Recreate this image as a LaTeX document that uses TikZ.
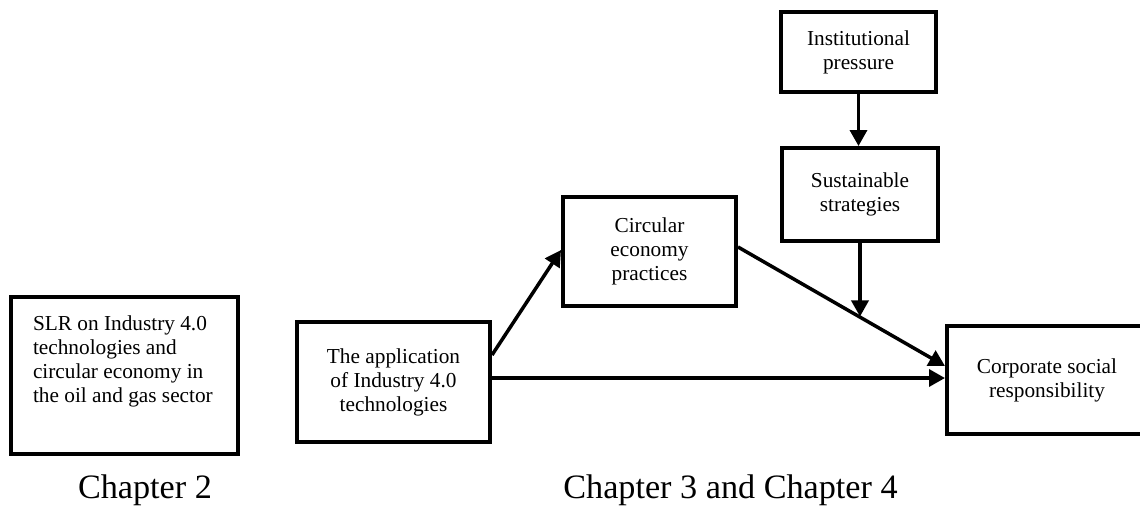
\documentclass[tikz,border=0pt]{standalone}
\usepackage{fontspec}
\setmainfont{Liberation Serif}
\usetikzlibrary{arrows.meta,calc}
\begin{document}
\begin{tikzpicture}[x=1pt,y=1pt,
  boxnode/.style={draw=black,line width=4pt,inner sep=0pt,align=center,
    font=\fontsize{21.3}{24}\selectfont},
  arr/.style={line width=3.5pt,-{Triangle[length=16pt,width=17pt]}},
  chaplabel/.style={anchor=base,inner sep=0pt,font=\fontsize{34.2}{40}\selectfont}]
\useasboundingbox (0,0) rectangle (1140,-511);
% boxes
\node[boxnode,minimum width=227pt,minimum height=157pt] (slr) at (124.5,-375.5)
  {\parbox[c][157pt][t]{183pt}{\raggedright\vspace*{19pt}SLR on Industry 4.0\\technologies and\\circular economy in\\the oil and gas sector}};
\node[boxnode,minimum width=193pt,minimum height=120pt] (app) at (393.5,-382)
  {The application\\of Industry 4.0\\technologies};
\node[boxnode,minimum width=173pt,minimum height=109pt] (ce) at (649.5,-251.5)
  {Circular\\economy\\practices};
\node[boxnode,minimum width=155pt,minimum height=80pt] (inst) at (858.5,-52)
  {Institutional\\pressure};
\node[boxnode,minimum width=156pt,minimum height=93pt] (ss) at (860,-194.5)
  {Sustainable\\strategies};
\node[boxnode,minimum width=200pt,minimum height=108pt] (csr) at (1047,-380)
  {Corporate social\\responsibility};
% labels
\node[chaplabel] (ch2) at (145,-498) {Chapter 2};
\node[chaplabel] (ch34) at (730.5,-498) {Chapter 3 and Chapter 4};
% connectors
\draw[arr] (inst.south) -- (inst.south |- ss.north);
\draw[arr] ([yshift=27pt]app.east) -- ([yshift=1.5pt]ce.west);
\draw[arr] ([yshift=4.5pt]ce.east) -- coordinate[pos=0.584] (m) ([yshift=14pt]csr.west);
\draw[arr] (ss.south) -- (ss.south |- m);
\draw[arr] ([yshift=4pt]app.east) -- ([yshift=4pt]app.east -| csr.west);
\end{tikzpicture}
\end{document}
